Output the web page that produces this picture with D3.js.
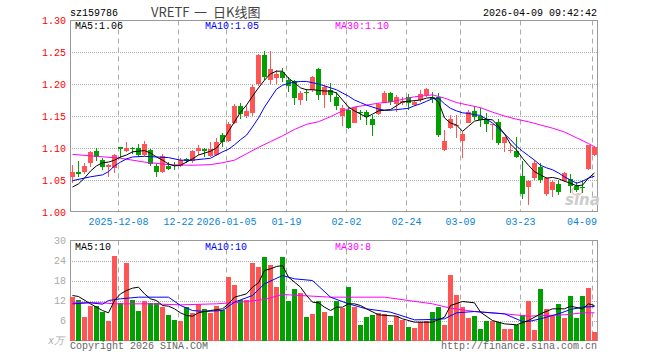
<!DOCTYPE html>
<html>
<head>
<meta charset="utf-8">
<script src="https://cdn.jsdelivr.net/npm/d3@7"></script>
<style>
  body { margin: 0; background: #fff; }
  svg { display: block; }
  text { font-family: "Liberation Mono", "DejaVu Sans Mono", monospace; font-size: 10px; }
</style>
</head>
<body>
<svg id="chart" width="660" height="360"></svg>
<script>
// Trading days shown on the chart
const dates = [
  "2025-11-26","2025-11-27","2025-11-28","2025-12-01","2025-12-02","2025-12-03","2025-12-04","2025-12-05",
  "2025-12-08","2025-12-09","2025-12-10","2025-12-11","2025-12-12","2025-12-15","2025-12-16","2025-12-17",
  "2025-12-18","2025-12-19","2025-12-22","2025-12-23","2025-12-24","2025-12-25","2025-12-26","2025-12-29",
  "2025-12-30","2025-12-31","2026-01-05","2026-01-06","2026-01-07","2026-01-08","2026-01-09","2026-01-12",
  "2026-01-13","2026-01-14","2026-01-15","2026-01-16","2026-01-19","2026-01-20","2026-01-21","2026-01-22",
  "2026-01-23","2026-01-26","2026-01-27","2026-01-28","2026-01-29","2026-01-30","2026-02-02","2026-02-03",
  "2026-02-04","2026-02-05","2026-02-06","2026-02-09","2026-02-10","2026-02-11","2026-02-12","2026-02-13",
  "2026-02-24","2026-02-25","2026-02-26","2026-02-27","2026-03-02","2026-03-03","2026-03-04","2026-03-05",
  "2026-03-06","2026-03-09","2026-03-10","2026-03-11","2026-03-12","2026-03-13","2026-03-16","2026-03-17",
  "2026-03-18","2026-03-19","2026-03-20","2026-03-23","2026-03-24","2026-03-25","2026-03-26","2026-03-27",
  "2026-03-30","2026-03-31","2026-04-01","2026-04-02","2026-04-03","2026-04-07","2026-04-08","2026-04-09"
];

const opens = [
  1.054,1.063,1.063,1.077,1.096,1.081,1.071,1.069,1.101,1.096,
  1.100,1.100,1.089,1.097,1.072,1.063,1.072,1.073,1.072,1.083,
  1.079,1.096,1.098,1.088,1.089,1.120,1.111,1.139,1.166,1.150,
  1.155,1.200,1.245,1.206,1.209,1.219,1.207,1.204,1.175,1.187,
  1.191,1.224,1.183,1.191,1.180,1.150,1.160,1.139,1.157,1.157,
  1.146,1.153,1.171,1.186,1.169,1.171,1.179,1.167,1.175,1.183,
  1.180,1.180,1.097,1.131,1.135,1.111,1.139,1.158,1.150,1.146,
  1.136,1.140,1.108,1.096,1.096,1.056,1.039,1.053,1.071,1.028,
  1.034,1.044,1.049,1.051,1.041,1.039,1.067,1.089
];
const closes = [
  1.063,1.060,1.072,1.093,1.086,1.071,1.074,1.089,1.098,1.100,
  1.098,1.089,1.106,1.075,1.063,1.088,1.067,1.072,1.082,1.079,
  1.096,1.100,1.095,1.098,1.110,1.110,1.138,1.165,1.153,1.158,
  1.196,1.246,1.211,1.223,1.216,1.209,1.197,1.178,1.186,1.186,
  1.211,1.183,1.196,1.183,1.165,1.162,1.132,1.164,1.154,1.149,
  1.136,1.168,1.186,1.172,1.179,1.174,1.170,1.172,1.185,1.192,
  1.177,1.120,1.111,1.146,1.136,1.122,1.157,1.149,1.143,1.138,
  1.138,1.108,1.117,1.097,1.086,1.028,1.049,1.077,1.050,1.053,
  1.047,1.032,1.061,1.040,1.035,1.037,1.104,1.102
];
const highs = [
  1.073,1.080,1.076,1.096,1.100,1.085,1.075,1.091,1.102,1.109,
  1.102,1.106,1.111,1.098,1.075,1.090,1.078,1.078,1.085,1.084,
  1.097,1.104,1.100,1.109,1.115,1.123,1.140,1.168,1.170,1.167,
  1.198,1.247,1.251,1.251,1.222,1.225,1.211,1.206,1.189,1.192,
  1.213,1.225,1.198,1.201,1.188,1.167,1.164,1.164,1.159,1.159,
  1.152,1.170,1.189,1.188,1.183,1.180,1.185,1.175,1.190,1.193,
  1.188,1.186,1.128,1.152,1.152,1.125,1.159,1.166,1.162,1.154,
  1.138,1.145,1.117,1.106,1.117,1.080,1.050,1.081,1.077,1.055,
  1.050,1.050,1.063,1.060,1.047,1.050,1.105,1.103
];
const lows = [
  1.045,1.055,1.060,1.070,1.079,1.066,1.054,1.061,1.084,1.093,
  1.090,1.086,1.088,1.072,1.055,1.061,1.066,1.066,1.070,1.076,
  1.077,1.089,1.086,1.086,1.088,1.102,1.109,1.138,1.145,1.147,
  1.150,1.197,1.206,1.200,1.200,1.203,1.188,1.167,1.167,1.174,
  1.188,1.175,1.162,1.172,1.159,1.134,1.129,1.139,1.144,1.136,
  1.118,1.152,1.170,1.167,1.157,1.167,1.159,1.165,1.172,1.180,
  1.170,1.117,1.095,1.130,1.116,1.085,1.139,1.144,1.133,1.125,
  1.113,1.105,1.094,1.092,1.084,1.020,1.011,1.050,1.045,1.025,
  1.024,1.027,1.047,1.030,1.032,1.029,1.066,1.088
];

// Volume, in 10k lots
const volumes = [
  13.0,12.3,7.0,10.3,10.5,8.7,5.8,25.5,11.3,23.2,
  12.3,9.0,12.0,11.3,11.3,10.0,7.8,6.3,6.0,10.0,
  8.3,11.0,9.6,8.2,10.3,9.3,19.2,16.8,12.3,12.3,
  23.4,22.2,25.2,22.8,16.2,25.2,12.0,15.6,14.4,7.2,
  8.1,12.0,8.7,7.5,12.0,9.8,16.0,10.0,4.8,7.0,
  7.8,8.3,8.1,4.6,7.5,6.3,4.2,3.9,5.5,5.8,
  8.7,10.0,4.8,19.8,13.8,10.2,6.9,7.5,3.6,6.0,
  6.0,5.6,3.6,3.6,4.8,7.8,12.0,3.3,15.6,9.6,
  7.5,11.1,6.9,13.5,6.9,13.5,15.7,2.7
];

// Moving averages, as [day index, value]
const ma5Price = [
  [0,1.039],[1,1.044],[2,1.053],[3,1.064],[4,1.072],[5,1.077],[6,1.078],[7,1.081],[8,1.086],[9,1.089],
  [10,1.094],[11,1.095],[12,1.096],[13,1.092],[14,1.086],[15,1.081],[16,1.075],[17,1.072],[18,1.073],[19,1.078],
  [20,1.083],[21,1.089],[22,1.092],[23,1.095],[24,1.100],[25,1.111],[26,1.126],[27,1.141],[28,1.156],[29,1.167],
  [30,1.181],[31,1.194],[32,1.206],[33,1.216],[34,1.220],[35,1.220],[36,1.209],[37,1.202],[38,1.194],[39,1.191],
  [40,1.191],[41,1.190],[42,1.189],[43,1.189],[44,1.186],[45,1.175],[46,1.164],[47,1.158],[48,1.153],[49,1.148],
  [50,1.153],[51,1.158],[52,1.159],[53,1.160],[54,1.166],[55,1.172],[56,1.173],[57,1.174],[58,1.175],[59,1.178],
  [60,1.179],[61,1.172],[62,1.147],[63,1.139],[64,1.136],[65,1.126],[66,1.134],[67,1.142],[68,1.144],[69,1.145],
  [70,1.144],[71,1.134],[72,1.122],[73,1.106],[74,1.097],[75,1.084],[76,1.073],[77,1.063],[78,1.058],[79,1.053],
  [80,1.054],[81,1.052],[82,1.048],[83,1.045],[84,1.041],[85,1.042],[86,1.053],[87,1.061]
];
const ma10Price = [
  [0,1.049],[3,1.055],[5,1.058],[6,1.063],[7,1.072],[8,1.078],[9,1.083],[10,1.086],[12,1.087],[14,1.086],
  [16,1.085],[18,1.081],[20,1.081],[22,1.083],[23,1.084],[24,1.089],[25,1.094],[26,1.098],[27,1.105],[28,1.113],
  [29,1.120],[30,1.133],[31,1.147],[32,1.164],[33,1.178],[34,1.192],[35,1.198],[36,1.201],[37,1.203],[38,1.204],
  [39,1.204],[40,1.202],[41,1.200],[42,1.197],[43,1.194],[44,1.191],[45,1.186],[46,1.181],[47,1.175],[48,1.171],
  [49,1.167],[50,1.164],[51,1.161],[52,1.159],[53,1.159],[54,1.160],[55,1.161],[56,1.162],[57,1.166],[58,1.169],
  [59,1.173],[60,1.177],[61,1.178],[62,1.169],[63,1.162],[64,1.158],[65,1.155],[66,1.154],[67,1.152],[68,1.151],
  [69,1.145],[70,1.139],[71,1.131],[72,1.122],[73,1.113],[74,1.103],[75,1.095],[76,1.088],[77,1.081],[78,1.073],
  [79,1.069],[80,1.066],[81,1.061],[82,1.055],[83,1.050],[84,1.045],[85,1.048],[86,1.053],[87,1.056]
];
const ma30Price = [
  [0,1.090],[4,1.087],[8,1.084],[12,1.078],[16,1.074],[20,1.073],[23,1.074],[25,1.077],[27,1.081],[29,1.091],
  [31,1.101],[33,1.110],[35,1.119],[37,1.129],[39,1.137],[41,1.141],[43,1.149],[45,1.158],[47,1.164],[49,1.167],
  [51,1.170],[53,1.172],[55,1.176],[57,1.180],[59,1.182],[60,1.183],[62,1.178],[64,1.171],[66,1.167],[68,1.163],
  [70,1.156],[72,1.150],[74,1.145],[76,1.141],[78,1.136],[80,1.131],[82,1.125],[84,1.116],[86,1.107],[87,1.102]
];
const ma5Vol = [
  [0,13.5],[1,13.2],[3,11.0],[5,9.0],[6,8.3],[7,12.0],[8,14.0],[9,15.0],[10,15.7],[11,16.0],
  [12,14.0],[13,12.5],[14,12.0],[15,10.5],[16,10.3],[17,9.5],[18,8.3],[19,7.5],[20,7.3],[21,8.3],
  [22,8.7],[23,9.0],[25,9.5],[26,11.0],[27,13.0],[28,13.5],[29,14.0],[30,16.0],[31,17.3],[32,21.0],
  [33,21.5],[34,22.2],[35,22.5],[36,19.0],[37,17.5],[38,16.0],[39,13.5],[40,11.5],[41,11.3],[42,10.0],
  [43,9.0],[44,10.0],[45,10.0],[46,11.0],[47,11.0],[48,10.5],[49,9.5],[51,7.7],[54,7.3],[55,6.5],
  [57,5.5],[60,5.5],[62,7.0],[63,10.5],[65,11.7],[66,11.5],[67,11.3],[68,8.5],[70,6.0],[72,5.0],
  [74,4.7],[76,6.0],[78,8.0],[80,9.5],[82,9.5],[83,10.3],[85,9.5],[86,11.0],[87,10.5]
];
const ma10Vol = [
  [0,11.0],[3,11.3],[5,10.9],[6,12.0],[8,12.5],[11,13.0],[14,13.0],[16,13.0],[18,10.5],[20,9.0],
  [22,8.7],[25,9.0],[27,11.5],[30,13.5],[32,17.0],[35,19.5],[37,18.5],[40,18.0],[43,13.0],[46,11.0],
  [49,9.5],[53,8.5],[57,6.2],[60,6.3],[62,6.5],[64,8.3],[67,8.7],[72,8.0],[75,5.7],[76,5.7],
  [78,6.5],[81,8.0],[83,9.3],[85,10.0],[87,10.2]
];
const ma30Vol = [
  [0,11.5],[5,11.3],[7,11.0],[13,11.0],[18,10.7],[24,11.0],[28,11.5],[32,12.3],[35,13.8],[38,13.5],
  [43,13.0],[47,13.0],[52,13.0],[56,12.0],[60,11.0],[63,9.7],[67,8.7],[72,8.0],[76,7.3],[82,7.7],
  [85,8.3],[87,8.3]
];

// Axis ticks and labels
const priceTicks = [1.00, 1.05, 1.10, 1.15, 1.20, 1.25, 1.30];
const volTicks = [6, 12, 18, 24, 30];
const dateTicks = ["2025-12-08","2025-12-22","2026-01-05","2026-01-19","2026-02-02","2026-02-24","2026-03-09","2026-03-23","2026-04-09"];
const dateTickLabels = ["2025-12-08","12-22","2026-01-05","01-19","02-02","02-24","03-09","03-23","04-09"];

const UP = "#ff5555", DOWN = "#00a000", GRID = "#aaaaaa", FRAME = "#999999";

const svg = d3.select("#chart");

const left = 70, right = 597.5;
const x = d3.scaleBand().domain(dates).range([69.5, 597.5]).paddingInner(1 / 6).paddingOuter(1 / 12);
const y = d3.scaleLinear().domain([1.0, 1.3]).range([212, 20]);
const yv = d3.scaleLinear().domain([0, 30]).range([340.5, 240.5]);
const cx = d => x(d) + 2.5;

// Header
svg.append("text").attr("x", 70).attr("y", 16).attr("fill", "#000").text("sz159786");
const title = svg.append("text").attr("y", 17)
  .style("font-family", "'Noto Sans CJK SC', sans-serif").style("font-size", "13px").attr("fill", "#444");
title.append("tspan").attr("x", 151).text("VRETF");
title.append("tspan").attr("x", 194).text("一");
title.append("tspan").attr("x", 213).text("日K线图");
svg.append("text").attr("x", 597).attr("y", 16).attr("text-anchor", "end").attr("fill", "#000").text("2026-04-09 09:42:42");

// Panels: frame, grids
function panel(top, bottom, gridYs) {
  svg.append("g").selectAll("line").data(gridYs).join("line")
    .attr("x1", left).attr("x2", right)
    .attr("y1", d => Math.round(d) + 0.5).attr("y2", d => Math.round(d) + 0.5)
    .attr("stroke", GRID).attr("stroke-dasharray", "1,1");
  svg.append("g").selectAll("line").data(dateTicks).join("line")
    .attr("x1", d => x(d) + 0.5).attr("x2", d => x(d) + 0.5)
    .attr("y1", top).attr("y2", bottom)
    .attr("stroke", GRID).attr("stroke-dasharray", "5,4");
  svg.append("rect").attr("x", 70.5).attr("y", top).attr("width", right - 70.5).attr("height", bottom - top)
    .attr("fill", "none").attr("stroke", FRAME);
}
panel(20.5, 211.5, priceTicks.slice(1, -1).map(y));
panel(240.5, 340.5, volTicks.slice(0, -1).map(yv));

// Price axis labels
svg.append("g").selectAll("text").data(priceTicks).join("text")
  .attr("x", 66).attr("y", d => y(d) + 3.5).attr("text-anchor", "end")
  .attr("fill", "#ff0000").text(d => d.toFixed(2));

// Date labels
svg.append("g").selectAll("text").data(dateTicks).join("text")
  .attr("x", (d, i) => i === dateTicks.length - 1 ? 597 : x(d) + 0.5)
  .attr("y", 225)
  .attr("text-anchor", (d, i) => i === dateTicks.length - 1 ? "end" : "middle")
  .attr("fill", "#0a84d6").text((d, i) => dateTickLabels[i]);

// Volume axis labels
svg.append("g").selectAll("text").data(volTicks).join("text")
  .attr("x", 66).attr("y", d => yv(d) + 3.5).attr("text-anchor", "end")
  .attr("fill", "#aaaaaa").text(d => d);
svg.append("text").attr("x", 48).attr("y", 344).attr("fill", "#aaaaaa")
  .style("font-style", "italic").text("x万");

// Sina watermark
svg.append("ellipse").attr("cx", 577).attr("cy", 191).attr("rx", 5).attr("ry", 4)
  .attr("fill", "none").attr("stroke", "#f2c0c0").attr("stroke-width", 1.5);
svg.append("text").attr("x", 565).attr("y", 205)
  .style("font-family", "'DejaVu Sans', sans-serif").style("font-size", "15px")
  .style("font-weight", "bold").style("font-style", "italic")
  .attr("fill", "#cccccc").text("sina");

// Candles
const candles = dates.map((d, i) => ({ date: d, o: opens[i], c: closes[i], h: highs[i], l: lows[i], v: volumes[i] }));
const colorOf = d => d.c >= d.o ? UP : DOWN;

const cg = svg.append("g").attr("shape-rendering", "crispEdges");
cg.selectAll("line").data(candles).join("line")
  .attr("x1", d => cx(d.date)).attr("x2", d => cx(d.date))
  .attr("y1", d => y(d.h)).attr("y2", d => y(d.l))
  .attr("stroke", colorOf);
cg.selectAll("rect").data(candles).join("rect")
  .attr("x", d => x(d.date)).attr("width", x.bandwidth())
  .attr("y", d => y(Math.max(d.o, d.c)))
  .attr("height", d => Math.max(1, Math.abs(y(d.o) - y(d.c))))
  .attr("fill", colorOf);

// Volume bars
svg.append("g").attr("shape-rendering", "crispEdges")
  .selectAll("rect").data(candles).join("rect")
  .attr("x", d => x(d.date)).attr("width", x.bandwidth())
  .attr("y", d => yv(d.v)).attr("height", d => yv(0) - yv(d.v))
  .attr("fill", colorOf);

// Moving average lines
const priceLine = d3.line().x(d => cx(dates[d[0]])).y(d => y(d[1]));
const volLine = d3.line().x(d => cx(dates[d[0]])).y(d => yv(d[1]));
[[ma30Price, "#ff00ff"], [ma10Price, "#0000ff"], [ma5Price, "#000000"]].forEach(([s, c]) => {
  svg.append("path").datum(s).attr("fill", "none").attr("stroke", c).attr("stroke-width", 1).attr("d", priceLine);
});
[[ma30Vol, "#ff00ff"], [ma10Vol, "#0000ff"], [ma5Vol, "#000000"]].forEach(([s, c]) => {
  svg.append("path").datum(s).attr("fill", "none").attr("stroke", c).attr("stroke-width", 1).attr("d", volLine);
});

// Legends
const legend = (yy, items) => items.forEach(([tx, lx, c]) =>
  svg.append("text").attr("x", lx).attr("y", yy).attr("fill", c).text(tx));
legend(29, [["MA5:1.06", 75, "#000"], ["MA10:1.05", 205, "#0000ff"], ["MA30:1.10", 335, "#ff00ff"]]);
legend(250, [["MA5:10", 75, "#000"], ["MA10:10", 205, "#0000ff"], ["MA30:8", 335, "#ff00ff"]]);

// Footer
svg.append("text").attr("x", 70).attr("y", 349).attr("fill", "#666").text("Copyright 2026 SINA.COM");
svg.append("text").attr("x", 597).attr("y", 349).attr("text-anchor", "end").attr("fill", "#666").text("http://finance.sina.com.cn");
</script>
</body>
</html>
